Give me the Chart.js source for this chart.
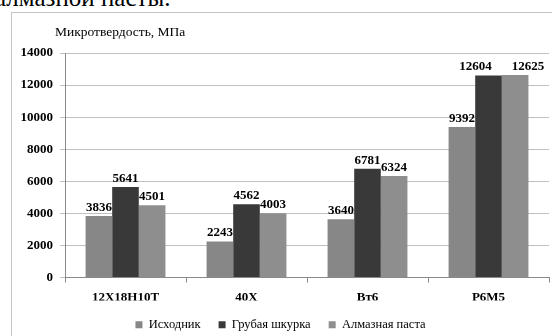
<!DOCTYPE html>
<html>
<head>
<meta charset="utf-8">
<script src="https://cdn.jsdelivr.net/npm/chart.js@4/dist/chart.umd.min.js"></script>
<style>
  body { margin: 0; width: 552px; height: 336px; overflow: hidden; background: #fff; position: relative; }
  #caption { position: absolute; left: -5px; top: -15px; font: 25px "Times New Roman", serif; line-height: 25px; color: #000; white-space: nowrap; }
  #box { position: absolute; left: 11px; top: 12px; width: 560px; height: 340px; border: 1.5px solid #c4c4c4; }
  #wrap { position: absolute; left: 0; top: 0; width: 552px; height: 336px; }
</style>
</head>
<body>
<div id="caption">алмазной пасты.</div>
<div id="box"></div>
<div id="wrap"><canvas id="bar-chart"></canvas></div>
<script>
var categories = ["12X18H10T", "40X", "Вт6", "Р6М5"];
var seriesNames = ["Исходник", "Грубая шкурка", "Алмазная паста"];
var ishodnik = [3836, 2243, 3640, 9392];
var grubaya = [5641, 4562, 6781, 12604];
var almaznaya = [4501, 4003, 6324, 12625];
var yTicks = [0, 2000, 4000, 6000, 8000, 10000, 12000, 14000];

var serif = "'Times New Roman', serif";
Chart.defaults.font.family = serif;

// подписи значений над столбцами (с раздвижкой соседних, как в Excel) и заголовок оси
var valueLabels = {
  id: 'valueLabels',
  afterDatasetsDraw: function(chart) {
    var ctx = chart.ctx;
    ctx.save();
    ctx.fillStyle = '#000';
    ctx.font = 'bold 13px ' + serif;
    ctx.textAlign = 'center';
    ctx.textBaseline = 'bottom';
    var n = chart.data.labels.length;
    for (var j = 0; j < n; j++) {
      var items = chart.data.datasets.map(function(ds, i) {
        var bar = chart.getDatasetMeta(i).data[j];
        var txt = String(ds.data[j]);
        return { txt: txt, x: bar.x, y: bar.y - 2, w: ctx.measureText(txt).width };
      });
      for (var k = 1; k < items.length; k++) {
        var a = items[k - 1], b = items[k];
        var overlap = (a.x + a.w / 2) - (b.x - b.w / 2);
        if (overlap > 0 && Math.abs(a.y - b.y) < 13) {
          if (Math.abs(a.y - b.y) < 3) {
            var d = (overlap + 20) / 2;
            a.x -= d; b.x += d;
          } else {
            b.x += overlap + 6;
            b.y -= 3;
          }
        }
      }
      items.forEach(function(it) { ctx.fillText(it.txt, it.x, it.y); });
    }
    ctx.font = '13.5px ' + serif;
    ctx.textAlign = 'left';
    ctx.textBaseline = 'middle';
    ctx.fillText('Микротвердость, МПа', 55, 32);
    ctx.restore();
  }
};

new Chart(document.getElementById("bar-chart"), {
  type: 'bar',
  data: {
    labels: categories,
    datasets: [
      { label: seriesNames[0], data: ishodnik, backgroundColor: "#878787" },
      { label: seriesNames[1], data: grubaya, backgroundColor: "#393939" },
      { label: seriesNames[2], data: almaznaya, backgroundColor: "#8e8e8e" }
    ]
  },
  options: {
    responsive: true,
    maintainAspectRatio: false,
    animation: false,
    devicePixelRatio: 1,
    layout: { padding: { left: 12, right: 3, top: 53, bottom: -5 } },
    datasets: { bar: { categoryPercentage: 0.66, barPercentage: 1 } },
    plugins: {
      legend: {
        position: 'bottom',
        labels: {
          font: { family: serif, size: 12.5 },
          color: '#000',
          boxWidth: 7,
          boxHeight: 7,
          padding: 18
        }
      },
      title: { display: false },
      tooltip: { enabled: false }
    },
    scales: {
      x: {
        grid: { drawOnChartArea: false, drawTicks: true, tickLength: 5, color: '#8a8a8a' },
        border: { color: '#8a8a8a' },
        ticks: { font: { family: serif, size: 13, weight: 'bold' }, color: '#000', padding: 7 },
        afterFit: function(s) { s.height = 23; }
      },
      y: {
        min: 0,
        max: 14000,
        afterBuildTicks: function(s) { s.ticks = yTicks.map(function(v) { return { value: v }; }); },
        grid: { color: '#c0c0c0', tickLength: 5 },
        border: { color: '#8a8a8a' },
        ticks: {
          font: { family: serif, size: 13, weight: 'bold' }, color: '#000', padding: 7,
          callback: function(v) { return String(v); }
        },
        afterFit: function(s) { s.width = 53; }
      }
    }
  },
  plugins: [valueLabels]
});
</script>
</body>
</html>
